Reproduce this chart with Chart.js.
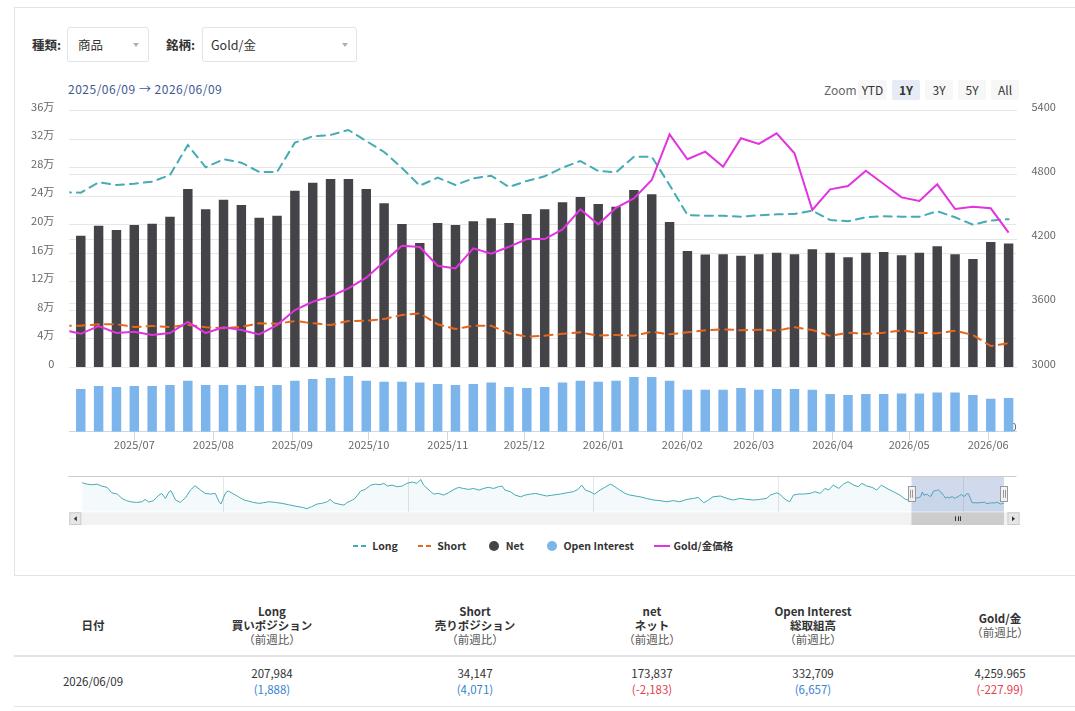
<!DOCTYPE html>
<html lang="ja">
<head>
<meta charset="utf-8">
<title>Gold/金 ポジション</title>
<script src="https://cdn.jsdelivr.net/npm/chart.js@4.4.1/dist/chart.umd.min.js"></script>
<style>
  html, body { margin: 0; padding: 0; background: #fff; overflow: hidden; }
  body { width: 1075px; height: 711px; position: relative; font-family: 'Noto Sans CJK JP', 'Noto Sans', sans-serif; color: #333; }
  .card { position: absolute; left: 14px; top: 7px; width: 1088px; height: 569px; border: 1px solid #e3e3e3; box-sizing: border-box; }
  .lbl { position: absolute; font-size: 12.5px; font-weight: bold; line-height: 20px; }
  .sel { position: absolute; top: 27px; height: 35px; box-sizing: border-box; border: 1px solid #e3e3e3; border-radius: 3px; font-size: 12.5px; line-height: 33px; }
  .arr { position: absolute; top: 15px; width: 0; height: 0; border-left: 3.5px solid transparent; border-right: 3.5px solid transparent; border-top: 4px solid #b0b0b0; }
  .range { position: absolute; left: 68px; top: 81px; font-size: 12px; line-height: 16px; letter-spacing: 0.5px; color: #3e5a93; }
  .zoomlbl { position: absolute; left: 824px; top: 82px; font-size: 12px; line-height: 16px; color: #666; }
  .btn { position: absolute; top: 80px; height: 20px; line-height: 20px; text-align: center; font-size: 12px; background: #f7f7f7; border-radius: 2px; color: #333; }
  .btn.on { background: #e6ebf5; font-weight: bold; }
  canvas { position: absolute; left: 0; }
  #legend { position: absolute; left: 69px; top: 537px; width: 948px; display: flex; justify-content: center; gap: 20px; font-size: 10.5px; font-weight: bold; color: #333; }
  #legend .item { display: flex; align-items: center; gap: 3.5px; line-height: 18px; }
  #tbl { position: absolute; left: 14px; top: 595px; width: 1086px; border-collapse: collapse; table-layout: fixed; }
  #tbl th { height: 60px; padding: 0; vertical-align: middle; font-size: 11.5px; line-height: 14px; font-weight: bold; border-bottom: 2px solid #e3e3e3; }
  #tbl th .sub { font-weight: normal; color: #555; }
  #tbl td { height: 49px; padding: 0; text-align: center; font-size: 11.5px; line-height: 15.5px; border-bottom: 1px solid #e3e3e3; }
  .up { color: #3a85d0; }
  .down { color: #e5404f; }
</style>
</head>
<body>
<div class="card"></div>

<div class="lbl" style="left:32px;top:35px">種類:</div>
<div class="sel" style="left:67px;width:82px;padding-left:10px">商品<span class="arr" style="left:65px"></span></div>
<div class="lbl" style="left:166px;top:35px">銘柄:</div>
<div class="sel" style="left:202px;width:155px;padding-left:8px">Gold/金<span class="arr" style="left:139px"></span></div>

<div class="range" id="range"></div>
<div class="zoomlbl">Zoom</div>
<div class="btn" style="left:858px;width:29px">YTD</div>
<div class="btn on" style="left:892px;width:28px">1Y</div>
<div class="btn" style="left:925px;width:28px">3Y</div>
<div class="btn" style="left:958px;width:28px">5Y</div>
<div class="btn" style="left:991px;width:28px">All</div>

<canvas id="main" width="1075" height="365" style="top:95px"></canvas>
<canvas id="nav" width="1075" height="58" style="top:470px"></canvas>
<div id="legend"></div>

<table id="tbl">
  <colgroup><col style="width:158px"><col style="width:200px"><col style="width:206px"><col style="width:148px"><col style="width:174px"><col style="width:200px"></colgroup>
  <thead><tr>
    <th>日付</th>
    <th>Long<br>買いポジション<br><span class="sub">（前週比）</span></th>
    <th>Short<br>売りポジション<br><span class="sub">（前週比）</span></th>
    <th>net<br>ネット<br><span class="sub">（前週比）</span></th>
    <th>Open Interest<br>総取組高<br><span class="sub">（前週比）</span></th>
    <th>Gold/金<br><span class="sub">（前週比）</span></th>
  </tr></thead>
  <tbody><tr id="row"></tr></tbody>
</table>

<script>
// weekly report dates (first one sits just left of the visible range)
const dates = [
  '2025/06/03', '2025/06/10', '2025/06/17', '2025/06/24', '2025/07/01', '2025/07/08', '2025/07/15', '2025/07/22', '2025/07/29',
  '2025/08/05', '2025/08/12', '2025/08/19', '2025/08/26', '2025/09/02', '2025/09/09', '2025/09/16', '2025/09/23', '2025/09/30',
  '2025/10/07', '2025/10/14', '2025/10/21', '2025/10/28', '2025/11/04', '2025/11/11', '2025/11/18', '2025/11/25',
  '2025/12/02', '2025/12/09', '2025/12/16', '2025/12/23', '2025/12/30', '2026/01/06', '2026/01/13', '2026/01/20', '2026/01/27',
  '2026/02/03', '2026/02/10', '2026/02/17', '2026/02/24', '2026/03/03', '2026/03/10', '2026/03/17', '2026/03/24', '2026/03/31',
  '2026/04/07', '2026/04/14', '2026/04/21', '2026/04/28', '2026/05/05', '2026/05/12', '2026/05/19', '2026/05/26', '2026/06/02', '2026/06/09'
];
const longPos = [
  245800, 245100, 259600, 255900, 257700, 260500, 269900, 311900, 280700, 291900, 287100, 274100, 274100, 315200,
  324100, 326000, 333000, 317500, 302100, 279700, 254900, 266100, 255900, 265200, 268900, 253100, 261500, 268000,
  280100, 289500, 275500, 273700, 295500, 295500, 255900, 213800, 212800, 212800, 211400, 213400, 214800, 215200,
  219800, 206800, 205000, 210600, 212000, 211400, 211400, 219000, 210600, 200200, 206096, 207984
];
const shortPos = [
  58600, 58600, 60600, 60600, 56800, 58200, 56800, 59600, 56400, 55000, 57200, 62000, 61400, 65200,
  62000, 59600, 65200, 65600, 68000, 73600, 76000, 60600, 54000, 58600, 58600, 47900, 43200, 44600,
  47400, 49300, 44600, 45600, 44600, 50200, 46500, 49300, 52100, 53600, 52100, 53000, 51600, 56400,
  52600, 44200, 48800, 47000, 48800, 52100, 48400, 47900, 51600, 45600, 30076, 34147
];
const netPos = [
  187000, 184800, 198800, 192800, 199800, 201600, 211400, 250200, 221800, 235200, 227800, 210000, 212800, 247900,
  259100, 264300, 264300, 250200, 230200, 201200, 174500, 202600, 199800, 205000, 209200, 202600, 215200, 221800,
  231600, 239000, 229200, 225400, 248800, 242800, 204000, 163300, 158400, 158700, 156700, 158700, 160900, 158700,
  165700, 160900, 154500, 160900, 161900, 157300, 160900, 169900, 158700, 152100, 176020, 173837
];
const openInterest = [
  425000, 421600, 451200, 441300, 451200, 451200, 461100, 503500, 461100, 461100, 461100, 451200, 461100, 503500,
  520300, 530200, 549900, 503500, 493700, 493700, 486700, 470900, 461100, 470900, 486700, 441300, 431400, 441300,
  486700, 503500, 493700, 503500, 540100, 540100, 503500, 414700, 414700, 414700, 431400, 414700, 421600, 421600,
  414700, 372200, 362300, 372200, 372200, 378100, 378100, 388000, 388000, 362300, 326052, 332709
];
const goldPrice = [
  3353, 3315, 3387, 3322, 3334, 3303, 3322, 3427, 3322, 3375, 3350, 3309, 3396, 3537,
  3614, 3665, 3740, 3839, 3988, 4138, 4126, 3951, 3926, 4113, 4063, 4128, 4200, 4200,
  4291, 4478, 4338, 4493, 4581, 4752, 5179, 4946, 5017, 4876, 5142, 5089, 5189, 5002,
  4472, 4665, 4696, 4839, 4715, 4590, 4556, 4712, 4481, 4502, 4487.955, 4259.965
];
const leftTicks = [0, 40000, 80000, 120000, 160000, 200000, 240000, 280000, 320000, 360000];
const goldTicks = [3000, 3600, 4200, 4800, 5400];
const oiTicks = [0];
const monthLabels = ['2025/07', '2025/08', '2025/09', '2025/10', '2025/11', '2025/12', '2026/01', '2026/02', '2026/03', '2026/04', '2026/05', '2026/06'];
const rangeStart = '2025/06/09';
const rangeEnd = '2026/06/09';

// navigator history of Long (year, value) before the 1Y window
const navYears = [
  2016.47, 2016.52, 2016.58, 2016.63, 2016.68, 2016.74, 2016.79, 2016.85, 2016.90, 2016.95, 2017.01, 2017.06, 2017.12, 2017.15,
  2017.19, 2017.24, 2017.30, 2017.33, 2017.37, 2017.41, 2017.43, 2017.48, 2017.53, 2017.59, 2017.64, 2017.69, 2017.75, 2017.80,
  2017.86, 2017.91, 2017.95, 2017.97, 2018.02, 2018.05, 2018.11, 2018.16, 2018.22, 2018.27, 2018.32, 2018.38, 2018.43, 2018.49,
  2018.56, 2018.63, 2018.70, 2018.77, 2018.85, 2018.90, 2018.95, 2019.01, 2019.06, 2019.12, 2019.15, 2019.19, 2019.24, 2019.30,
  2019.33, 2019.39, 2019.42, 2019.48, 2019.53, 2019.59, 2019.64, 2019.69, 2019.73, 2019.77, 2019.82, 2019.87, 2019.93, 2019.98,
  2020.04, 2020.09, 2020.13, 2020.16, 2020.22, 2020.27, 2020.32, 2020.38, 2020.43, 2020.49, 2020.54, 2020.59, 2020.65, 2020.70,
  2020.76, 2020.81, 2020.86, 2020.92, 2020.97, 2021.01, 2021.04, 2021.10, 2021.15, 2021.21, 2021.26, 2021.32, 2021.37, 2021.49,
  2021.56, 2021.64, 2021.71, 2021.78, 2021.83, 2021.87, 2021.91, 2021.96, 2022.01, 2022.07, 2022.12, 2022.18, 2022.23, 2022.28,
  2022.34, 2022.39, 2022.45, 2022.50, 2022.57, 2022.65, 2022.72, 2022.79, 2022.86, 2022.93, 2023.01, 2023.08, 2023.13, 2023.19,
  2023.24, 2023.29, 2023.37, 2023.44, 2023.51, 2023.58, 2023.65, 2023.73, 2023.80, 2023.87, 2023.91, 2023.94, 2023.98, 2024.01,
  2024.07, 2024.12, 2024.16, 2024.21, 2024.27, 2024.34, 2024.39, 2024.45, 2024.50, 2024.54, 2024.59, 2024.65, 2024.70, 2024.75,
  2024.81, 2024.86, 2024.90, 2024.95, 2025.01, 2025.06, 2025.11, 2025.17, 2025.24, 2025.31, 2025.37, 2025.40
];
const navLong = [
  398000, 385000, 379000, 385000, 367000, 355000, 305000, 293000, 253000, 232000, 219000, 216000, 222000, 244000,
  219000, 232000, 284000, 299000, 253000, 315000, 324000, 238000, 216000, 262000, 330000, 370000, 330000, 299000,
  293000, 299000, 222000, 201000, 305000, 321000, 293000, 268000, 238000, 228000, 216000, 207000, 213000, 222000,
  216000, 207000, 195000, 182000, 170000, 158000, 176000, 201000, 207000, 222000, 244000, 213000, 201000, 191000,
  213000, 238000, 253000, 321000, 336000, 376000, 385000, 379000, 392000, 367000, 376000, 361000, 367000, 392000,
  404000, 392000, 428000, 376000, 330000, 293000, 299000, 284000, 305000, 336000, 355000, 345000, 336000, 345000,
  330000, 345000, 355000, 345000, 361000, 367000, 330000, 315000, 284000, 268000, 284000, 293000, 299000, 275000,
  284000, 293000, 305000, 315000, 336000, 376000, 330000, 315000, 293000, 330000, 355000, 385000, 361000, 330000,
  299000, 284000, 275000, 268000, 253000, 238000, 232000, 222000, 232000, 222000, 244000, 253000, 262000, 213000,
  238000, 268000, 275000, 253000, 238000, 253000, 244000, 238000, 244000, 253000, 284000, 293000, 305000, 293000,
  244000, 222000, 284000, 293000, 293000, 299000, 315000, 299000, 345000, 330000, 376000, 345000, 385000, 407000,
  376000, 361000, 392000, 367000, 355000, 330000, 376000, 345000, 315000, 284000, 244000, 238000
];
const navYearTicks = [2018, 2020, 2022, 2024, 2026];

const longColor = '#45abb4';
const shortColor = '#e8661c';
const netColor = '#434348';
const oiColor = '#7cb5ec';
const goldColor = '#e233e0';

Chart.defaults.font.family = "'Noto Sans CJK JP', 'Noto Sans', sans-serif";
Chart.defaults.color = '#666';

const dayNum = s => { const [y, m, d] = s.split('/').map(Number); return Date.UTC(y, m - 1, d) / 864e5; };
const toYear = s => { const [y, m, d] = s.split('/').map(Number); return y + (Date.UTC(y, m - 1, d) - Date.UTC(y, 0, 1)) / (365 * 864e5); };
const xs = dates.map(dayNum);
const pts = arr => arr.map((v, i) => ({x: xs[i], y: v}));
const monthDays = monthLabels.map(m => dayNum(m + '/01'));

document.getElementById('range').textContent = rangeStart + ' → ' + rangeEnd;

// y axes: fixed width, and no extra label padding at top/bottom of the plot
const fixWidth = w => s => { s.width = w; s.paddingTop = 0; s.paddingBottom = 0; };

const mainChart = new Chart(document.getElementById('main'), {
  type: 'bar',
  data: {
    datasets: [
      {type: 'line', label: 'Long', data: pts(longPos), yAxisID: 'y', borderColor: longColor, borderWidth: 2,
       borderDash: [8, 6], borderCapStyle: 'round', pointRadius: 0, tension: 0, order: 1},
      {type: 'line', label: 'Short', data: pts(shortPos), yAxisID: 'y', borderColor: shortColor, borderWidth: 2,
       borderDash: [8, 6], borderCapStyle: 'round', pointRadius: 0, tension: 0, order: 1},
      {type: 'bar', label: 'Net', data: pts(netPos), yAxisID: 'y', backgroundColor: netColor,
       grouped: false, barPercentage: 0.53, categoryPercentage: 1, order: 2},
      {type: 'bar', label: 'Open Interest', data: pts(openInterest), yAxisID: 'yOI', backgroundColor: oiColor,
       grouped: false, barPercentage: 0.53, categoryPercentage: 1, order: 2},
      {type: 'line', label: 'Gold/金価格', data: pts(goldPrice), yAxisID: 'yGold', borderColor: goldColor, borderWidth: 2,
       pointRadius: 0, tension: 0, order: 0}
    ]
  },
  options: {
    responsive: false,
    animation: false,
    layout: {padding: {top: 15.7, left: 0, right: 0, bottom: 0}},
    plugins: {legend: {display: false}, tooltip: {enabled: false}},
    scales: {
      x: {
        type: 'linear',
        offset: false,
        min: dayNum(rangeStart) - 3.5,
        max: dayNum(rangeEnd) + 3.1,
        afterBuildTicks: s => { s.ticks = monthDays.map(v => ({value: v})); },
        afterFit: s => { s.height = 28.3; },
        grid: {offset: false, drawOnChartArea: false, drawTicks: true, tickLength: 8, color: '#ccd6eb'},
        border: {color: '#ccd6eb'},
        ticks: {autoSkip: false, maxRotation: 0, padding: -1, color: '#666', font: {size: 11},
                callback: (v, i) => monthLabels[i]}
      },
      y: {
        position: 'left',
        min: -90000,
        max: 360000,
        afterBuildTicks: s => { s.ticks = leftTicks.map(v => ({value: v})); },
        afterFit: fixWidth(69.3),
        grid: {color: '#e6e6e6', drawTicks: false},
        border: {display: false},
        ticks: {padding: 15, labelOffset: -4, color: '#666', font: {size: 11},
                callback: v => v === 0 ? '0' : (v / 10000) + '万'}
      },
      yOI: {
        position: 'right',
        weight: 0,
        min: 0,
        max: 3170000,
        afterBuildTicks: s => { s.ticks = oiTicks.map(v => ({value: v})); },
        afterFit: fixWidth(0),
        grid: {display: false},
        border: {display: false},
        ticks: {mirror: true, padding: 0, labelOffset: -5, color: '#666', font: {size: 11}, callback: v => String(v)}
      },
      yGold: {
        position: 'right',
        weight: 1,
        min: 2400,
        max: 5400,
        afterBuildTicks: s => { s.ticks = goldTicks.map(v => ({value: v})); },
        afterFit: fixWidth(58.5),
        grid: {color: '#e6e6e6', drawTicks: false},
        border: {display: false},
        ticks: {padding: 15, labelOffset: -4, color: '#666', font: {size: 11}, callback: v => String(v)}
      }
    }
  }
});

// navigator: mask, outline, handles and scrollbar around the selected year
const navigatorParts = {
  id: 'navigatorParts',
  afterDraw(chart) {
    const {ctx, chartArea: a, scales: {x}} = chart;
    const x0 = x.getPixelForValue(toYear(rangeStart));
    const x1 = x.getPixelForValue(toYear(rangeEnd));
    const midY = (a.top + a.bottom) / 2;
    ctx.save();
    ctx.fillStyle = 'rgba(102,133,194,0.3)';
    ctx.fillRect(x0, a.top, x1 - x0, a.bottom - a.top);
    ctx.strokeStyle = '#cccccc';
    ctx.lineWidth = 1;
    ctx.beginPath();
    ctx.moveTo(a.left - 1, a.top + 0.5);
    ctx.lineTo(a.right, a.top + 0.5);
    ctx.stroke();

    const sy = a.bottom + 0.6, sh = 12.7, sRight = a.right + 3;
    ctx.fillStyle = '#f2f2f2';
    ctx.fillRect(a.left, sy, sRight - a.left, sh);
    ctx.fillStyle = '#cccccc';
    ctx.fillRect(x0, sy, x1 - x0, sh);
    ctx.strokeStyle = '#333';
    for (const dx of [-2.5, 0, 2.5]) {
      const gx = Math.round((x0 + x1) / 2 + dx) + 0.5;
      ctx.beginPath(); ctx.moveTo(gx, sy + 4); ctx.lineTo(gx, sy + sh - 4); ctx.stroke();
    }
    for (const [bx, dir] of [[a.left, -1], [sRight - 12, 1]]) {
      ctx.fillStyle = '#e6e6e6';
      ctx.fillRect(bx, sy, 12, sh);
      ctx.strokeStyle = '#cccccc';
      ctx.strokeRect(bx + 0.5, sy + 0.5, 11, sh - 1);
      ctx.fillStyle = '#333';
      ctx.beginPath();
      const cx = bx + 6, cy = sy + sh / 2;
      ctx.moveTo(cx - 1.5 * dir, cy - 2.5);
      ctx.lineTo(cx + 1.5 * dir, cy);
      ctx.lineTo(cx - 1.5 * dir, cy + 2.5);
      ctx.closePath();
      ctx.fill();
    }
    for (const hx of [x0, x1]) {
      ctx.fillStyle = '#f2f2f2';
      ctx.strokeStyle = '#999999';
      ctx.fillRect(hx - 3.5, midY - 7.5, 7, 15);
      ctx.strokeRect(Math.round(hx - 3.5) + 0.5, Math.round(midY - 7.5) + 0.5, 7, 15);
      ctx.beginPath();
      ctx.moveTo(Math.round(hx) - 0.5, midY - 4); ctx.lineTo(Math.round(hx) - 0.5, midY + 4);
      ctx.moveTo(Math.round(hx) + 1.5, midY - 4); ctx.lineTo(Math.round(hx) + 1.5, midY + 4);
      ctx.stroke();
    }
    ctx.restore();
  }
};

const navData = navYears.map((x, i) => ({x, y: navLong[i]}))
  .concat(dates.map((d, i) => ({x: toYear(d), y: longPos[i]})));

new Chart(document.getElementById('nav'), {
  type: 'line',
  data: {
    datasets: [{data: navData, borderColor: longColor, borderWidth: 1, pointRadius: 0, tension: 0,
                fill: 'start', backgroundColor: 'rgba(69,171,180,0.06)'}]
  },
  options: {
    responsive: false,
    animation: false,
    layout: {padding: {top: 6, left: 69.3, right: 58.5, bottom: 16.3}},
    plugins: {legend: {display: false}, tooltip: {enabled: false}},
    scales: {
      x: {
        type: 'linear',
        min: 2016.331,
        max: 2026.571,
        afterBuildTicks: s => { s.ticks = navYearTicks.map(v => ({value: v})); },
        afterFit: s => { s.height = 0; },
        grid: {color: '#e6e6e6', drawTicks: false},
        border: {display: false},
        ticks: {align: 'start', labelOffset: 3, padding: -13.3, color: '#999', font: {size: 11}, callback: v => String(v)}
      },
      y: {display: false, min: 130000, max: 460000}
    }
  },
  plugins: [navigatorParts]
});

// html legend built from the main chart datasets
const legend = document.getElementById('legend');
mainChart.data.datasets.forEach(ds => {
  const item = document.createElement('span');
  item.className = 'item';
  let sym;
  if (ds.type === 'bar') {
    sym = '<svg width="16" height="12"><circle cx="8" cy="6" r="5" fill="' + ds.backgroundColor + '"/></svg>';
  } else {
    sym = '<svg width="16" height="12"><line x1="0" y1="6" x2="16" y2="6" stroke="' + ds.borderColor + '" stroke-width="2"' +
      (ds.borderDash ? ' stroke-dasharray="5,3"' : '') + '/></svg>';
  }
  item.innerHTML = sym + '<span>' + ds.label + '</span>';
  legend.appendChild(item);
});

// latest week table
const last = dates.length - 1;
const fmt = (v, dec) => v.toLocaleString('en-US', {minimumFractionDigits: dec, maximumFractionDigits: dec});
function cell(arr, dec, decDiff) {
  const diff = arr[last] - arr[last - 1];
  const cls = diff < 0 ? 'down' : 'up';
  return '<td>' + fmt(arr[last], dec) + '<br><span class="' + cls + '">(' + fmt(diff, decDiff) + ')</span></td>';
}
document.getElementById('row').innerHTML =
  '<td>' + dates[last] + '</td>' +
  cell(longPos, 0, 0) + cell(shortPos, 0, 0) + cell(netPos, 0, 0) + cell(openInterest, 0, 0) + cell(goldPrice, 3, 2);
</script>
</body>
</html>
